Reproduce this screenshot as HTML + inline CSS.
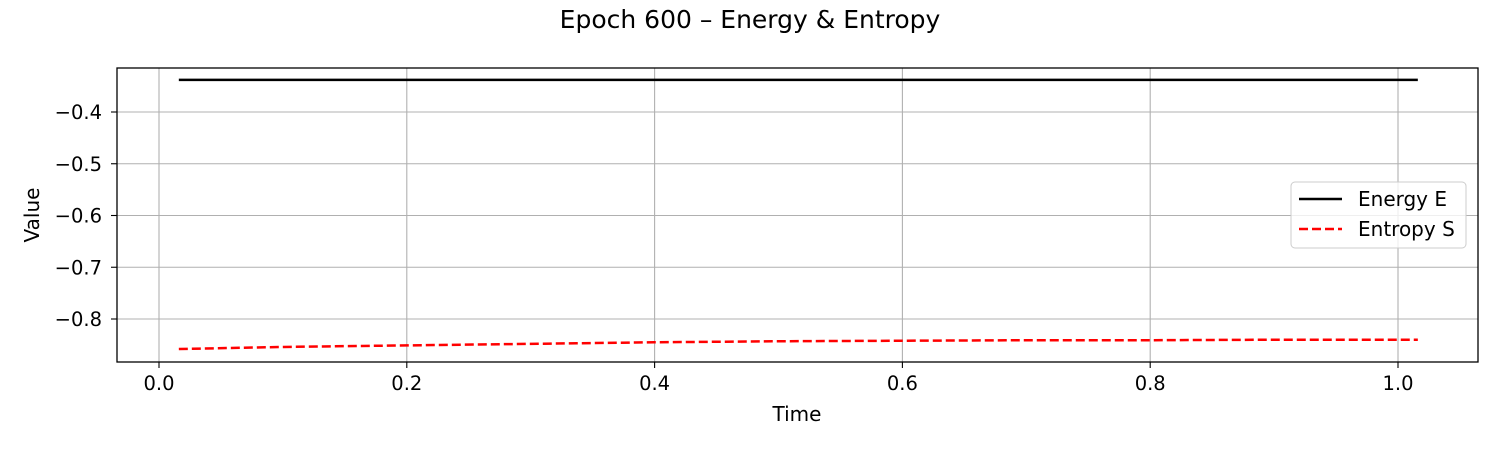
<!DOCTYPE html>
<html><head><meta charset="utf-8"><style>
body{margin:0;background:#fff;}
svg text{font-family:"DejaVu Sans","Liberation Sans",sans-serif;fill:#000;}
</style></head><body>
<svg width="1500" height="450" xmlns="http://www.w3.org/2000/svg">
<rect width="1500" height="450" fill="#fff"/>
<text x="750" y="28" text-anchor="middle" font-size="25">Epoch 600 – Energy &amp; Entropy</text>
<g id="grid"></g>
<g id="ticks"></g>
<g id="series"></g>
<rect x="117" y="68" width="1361" height="294" fill="none" stroke="#000" stroke-width="1.3"/>
<text x="797" y="421" text-anchor="middle" font-size="20">Time</text>
<text transform="translate(39,215) rotate(-90)" text-anchor="middle" font-size="20">Value</text>
<g>
<rect x="1291" y="182" width="175" height="66" rx="4" fill="#fff" fill-opacity="0.8" stroke="#ccc"/>
<line x1="1299" y1="199" x2="1342" y2="199" stroke="#000" stroke-width="2.5"/>
<text x="1358" y="206" font-size="20">Energy E</text>
<line x1="1299" y1="229" x2="1342" y2="229" stroke="#f00" stroke-width="2.5" stroke-dasharray="9,4"/>
<text x="1358" y="236" font-size="20">Entropy S</text>
</g>
</svg>
<script>
const times=[0.016,0.1,0.2,0.3,0.4,0.5,0.6,0.7,0.8,0.9,1.016];
const energy=[-0.338,-0.338,-0.338,-0.338,-0.338,-0.338,-0.338,-0.338,-0.338,-0.338,-0.338];
const entropy=[-0.858,-0.854,-0.851,-0.848,-0.845,-0.843,-0.842,-0.841,-0.841,-0.840,-0.840];
const xTicks=[0.0,0.2,0.4,0.6,0.8,1.0];
const xTickLabels=["0.0","0.2","0.4","0.6","0.8","1.0"];
const yTicks=[-0.4,-0.5,-0.6,-0.7,-0.8];
const yTickLabels=["\u22120.4","\u22120.5","\u22120.6","\u22120.7","\u22120.8"];
const NS="http://www.w3.org/2000/svg";
const xs=v=>159+v*1239;
const ys=v=>112+(-0.4-v)*517.5;
function mk(tag,attrs,parent,txt){const e=document.createElementNS(NS,tag);for(const k in attrs)e.setAttribute(k,attrs[k]);if(txt!==undefined)e.textContent=txt;document.getElementById(parent).appendChild(e);return e;}
xTicks.forEach((t,i)=>{const x=xs(t);
let g=mk('line',{x1:x,x2:x,y1:68,y2:362,stroke:'#b0b0b0','stroke-width':1.1},'grid');


let tk=mk('line',{x1:x,x2:x,y1:362,y2:368,stroke:'#000','stroke-width':1.1},'ticks');


let l=mk('text',{x:x,y:390,'text-anchor':'middle','font-size':19.5},'ticks',xTickLabels[i]);

});
yTicks.forEach((t,i)=>{const y=ys(t);
let g=mk('line',{x1:117,x2:1478,y1:y,y2:y,stroke:'#b0b0b0','stroke-width':1.1},'grid');


let tk=mk('line',{x1:111,x2:117,y1:y,y2:y,stroke:'#000','stroke-width':1.1},'ticks');


let l=mk('text',{x:102,y:y+7,'text-anchor':'end','font-size':19.5},'ticks',yTickLabels[i]);

});
const pts=a=>a.map((v,i)=>xs(times[i])+','+ys(v)).join(' ');
let e=mk('polyline',{points:pts(energy),fill:'none',stroke:'#000','stroke-width':2.5},'series');


let s=mk('polyline',{points:pts(entropy),fill:'none',stroke:'#f00','stroke-width':2.5,'stroke-dasharray':'9,4'},'series');


</script>
</body></html>
